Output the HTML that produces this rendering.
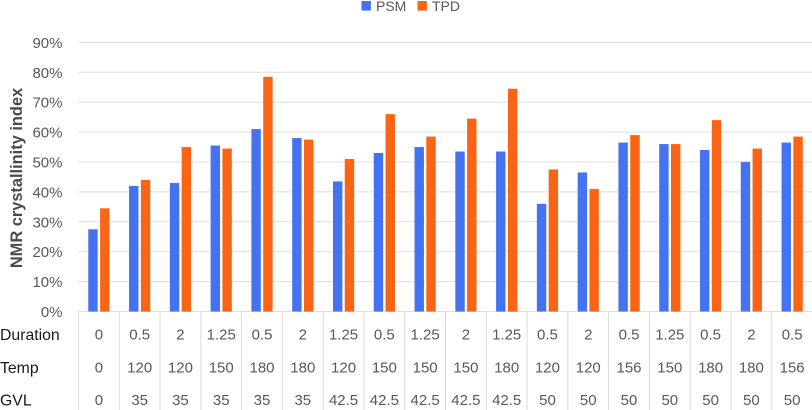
<!DOCTYPE html>
<html>
<head>
<meta charset="utf-8">
<style>
html,body{margin:0;padding:0;background:#fff;width:812px;height:410px;overflow:hidden}
svg{display:block;font-family:"Liberation Sans",sans-serif}
</style>
</head>
<body>
<svg id="chart" width="812" height="410" viewBox="0 0 812 410" xmlns="http://www.w3.org/2000/svg">
  <g id="grid"></g>
  <g id="bars"></g>
  <g id="yticks"></g>
  <g id="table"></g>
  <text transform="translate(22,178) rotate(-90)" text-anchor="middle" font-size="16.4" font-weight="bold" fill="#4a4a4a">NMR crystallinity index</text>
  <g>
    <rect x="361.5" y="1" width="9.4" height="9.6" fill="#4472f0"/>
    <text x="376" y="11" font-size="14" fill="#595959">PSM</text>
    <rect x="417.5" y="1" width="9.4" height="9.6" fill="#fb6414"/>
    <text x="432" y="11" font-size="14" fill="#595959">TPD</text>
  </g>
</svg>
<script>
var duration = ['0','0.5','2','1.25','0.5','2','1.25','0.5','1.25','2','1.25','0.5','2','0.5','1.25','0.5','2','0.5'];
var temp = ['0','120','120','150','180','180','120','150','150','150','180','120','120','156','150','180','180','156'];
var gvl = ['0','35','35','35','35','35','42.5','42.5','42.5','42.5','42.5','50','50','50','50','50','50','50'];
var psmValues = [27.5,42,43,55.5,61,58,43.5,53,55,53.5,53.5,36,46.5,56.5,56,54,50,56.5];
var tpdValues = [34.5,44,55,54.5,78.5,57.5,51,66,58.5,64.5,74.5,47.5,41,59,56,64,54.5,58.5];
var yTicks = [0,10,20,30,40,50,60,70,80,90];
var rowLabels = ['Duration','Temp','GVL'];

var NS = 'http://www.w3.org/2000/svg';
var plotLeft = 78.5, plotRight = 812, catW = 40.78, y0 = 311.5, pxPerPct = 2.99;
var barW = 9.4, barGap = 2.4;
function yScale(v){ return y0 - v * pxPerPct; }
function xScale(i){ return plotLeft + i * catW; }
function make(tag, attrs){
  var el = document.createElementNS(NS, tag);
  for (var k in attrs) el.setAttribute(k, attrs[k]);
  return el;
}
var gridG = document.getElementById('grid');
var ticksG = document.getElementById('yticks');
yTicks.forEach(function(t){
  var line = make('line', {x1: plotLeft, x2: plotRight, y1: yScale(t), y2: yScale(t), stroke: '#dedede', 'stroke-width': 1});
  
  
  gridG.appendChild(line);
  var txt = make('text', {x: 62.5, y: yScale(t) + 5.5, 'text-anchor': 'end', 'font-size': 15, fill: '#595959'});
  
  
  txt.textContent = t + '%';
  ticksG.appendChild(txt);
});
var barsG = document.getElementById('bars');
function drawBar(i, v, offset, color, name){
  var bar = make('rect', {x: xScale(i) + offset, y: yScale(v), width: barW, height: y0 - yScale(v), fill: color});
  
  
  barsG.appendChild(bar);
}
psmValues.forEach(function(v, i){ drawBar(i, v, catW / 2 - barGap / 2 - barW, '#4472f0', 'bar-psm'); });
tpdValues.forEach(function(v, i){ drawBar(i, v, catW / 2 + barGap / 2, '#fb6414', 'bar-tpd'); });

var tableG = document.getElementById('table');
for (var c = 0; c <= duration.length; c++) {
  var sep = make('line', {x1: xScale(c), x2: xScale(c), y1: y0, y2: 410, stroke: '#dcdcdc', 'stroke-width': 1});
  
  
  tableG.appendChild(sep);
}
var rows = [duration, temp, gvl];
var rowBase = [339.5, 372.5, 405];
rows.forEach(function(row, r){
  var lab = make('text', {x: 0, y: rowBase[r] + 0.5, 'font-size': 15.8, fill: '#1a1a1a'});
  
  
  lab.textContent = rowLabels[r];
  tableG.appendChild(lab);
  row.forEach(function(val, i){
    var cell = make('text', {x: xScale(i) + catW / 2, y: rowBase[r], 'text-anchor': 'middle', 'font-size': 15, fill: '#595959'});
    
    
    cell.textContent = val;
    tableG.appendChild(cell);
  });
});
</script>
</body>
</html>
